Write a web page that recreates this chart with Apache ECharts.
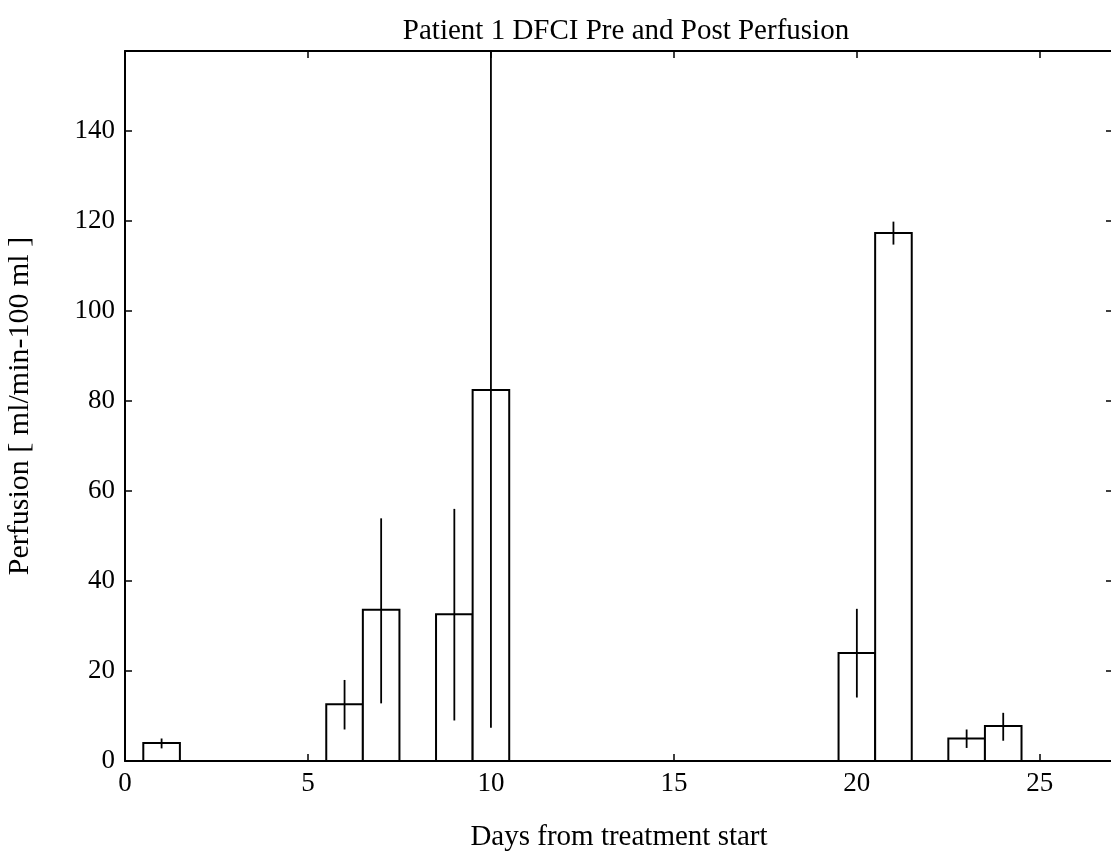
<!DOCTYPE html>
<html>
<head>
<meta charset="utf-8">
<script src="https://cdn.jsdelivr.net/npm/echarts@6/dist/echarts.min.js"></script>
<style>
  html, body { margin: 0; padding: 0; background: #fff; }
  #canvas { width: 1111px; height: 858px; }
</style>
</head>
<body>
<div id="canvas"></div>
<script>
// days of scans and mean perfusion with error bar ends
var days = [1, 6, 7, 9, 10, 20, 21, 23, 24];
var perfusion = [4.0, 12.6, 33.6, 32.6, 82.4, 24.0, 117.3, 5.0, 7.8];
var errLow = [2.8, 7.0, 12.8, 9.0, 7.4, 14.1, 114.7, 2.9, 4.5];
var errHigh = [5.0, 18.0, 53.9, 56.0, 170, 33.8, 119.8, 7.0, 10.7];
var xTicks = [0, 5, 10, 15, 20, 25];
var yTicks = [0, 20, 40, 60, 80, 100, 120, 140];

var dom = document.getElementById("canvas");
var myChart = echarts.init(dom);
var font = '"Liberation Serif", "Times New Roman", serif';

var barData = [];
var errData = [];
for (var i = 0; i < days.length; i++) {
    barData.push([days[i], perfusion[i]]);
    errData.push([days[i], errLow[i], errHigh[i]]);
}

var xMax = 27, yMax = 157.7;

function showTick(list) {
    return function (v) { return list.indexOf(v) >= 0 ? String(v) : ''; };
}

option = {
    animation: false,
    backgroundColor: '#fff',
    title: {
        text: 'Patient 1 DFCI Pre and Post Perfusion',
        left: 621,
        textAlign: 'center',
        top: 12,
        textStyle: { fontFamily: font, fontSize: 29, fontWeight: 'normal', color: '#000' }
    },
    grid: { left: 125, right: -2, top: 51, bottom: 97, containLabel: false, outerBoundsMode: 'none' },
    xAxis: [{
        type: 'value', min: 0, max: xMax, interval: 5,
        name: 'Days from treatment start', nameLocation: 'middle', nameGap: 62,
        nameTextStyle: { fontFamily: font, fontSize: 29, color: '#000' },
        axisLine: { show: true, lineStyle: { color: '#000', width: 2 } },
        axisTick: { inside: true, length: 7, lineStyle: { color: '#000', width: 1.5 } },
        axisLabel: { fontFamily: font, fontSize: 27, color: '#000', margin: 9, showMaxLabel: false, formatter: showTick(xTicks) },
        splitLine: { show: false }
    }, {
        type: 'value', min: 0, max: xMax, interval: 5, position: 'top',
        axisLine: { show: true, onZero: false, lineStyle: { color: '#000', width: 2 } },
        axisTick: { inside: true, length: 7, lineStyle: { color: '#000', width: 1.5 } },
        axisLabel: { show: false },
        splitLine: { show: false }
    }],
    yAxis: [{
        type: 'value', min: 0, max: yMax, interval: 20,
        name: 'Perfusion [ ml/min-100 ml ]', nameLocation: 'middle', nameGap: 90,
        nameTextStyle: { fontFamily: font, fontSize: 30, color: '#000' },
        axisLine: { show: true, lineStyle: { color: '#000', width: 2 } },
        axisTick: { inside: true, length: 7, lineStyle: { color: '#000', width: 1.5 } },
        axisLabel: { fontFamily: font, fontSize: 27, color: '#000', margin: 10, showMaxLabel: false, formatter: showTick(yTicks) },
        splitLine: { show: false }
    }, {
        type: 'value', min: 0, max: yMax, interval: 20, position: 'right',
        axisLine: { show: true, onZero: false, lineStyle: { color: '#000', width: 2 } },
        axisTick: { inside: true, length: 7, lineStyle: { color: '#000', width: 1.5 } },
        axisLabel: { show: false },
        splitLine: { show: false }
    }],
    series: [{
        type: 'custom',
        name: 'bars',
        clip: true,
        renderItem: function (params, api) {
            var x = api.value(0), y = api.value(1);
            var p0 = api.coord([x - 0.5, y]);
            var p1 = api.coord([x + 0.5, 0]);
            return {
                type: 'rect',
                shape: { x: p0[0], y: p0[1], width: p1[0] - p0[0], height: p1[1] - p0[1] },
                style: { fill: '#fff', stroke: '#000', lineWidth: 2 }
            };
        },
        encode: { x: 0, y: 1 },
        data: barData
    }, {
        type: 'custom',
        name: 'errors',
        clip: true,
        renderItem: function (params, api) {
            var x = api.value(0);
            var lo = api.coord([x, api.value(1)]);
            var hi = api.coord([x, api.value(2)]);
            return {
                type: 'line',
                shape: { x1: lo[0], y1: lo[1], x2: hi[0], y2: hi[1] },
                style: { stroke: '#000', lineWidth: 1.8 }
            };
        },
        encode: { x: 0, y: [1, 2] },
        data: errData,
        z: 3
    }]
};
myChart.setOption(option);
window.onresize = myChart.resize;
</script>
</body>
</html>
